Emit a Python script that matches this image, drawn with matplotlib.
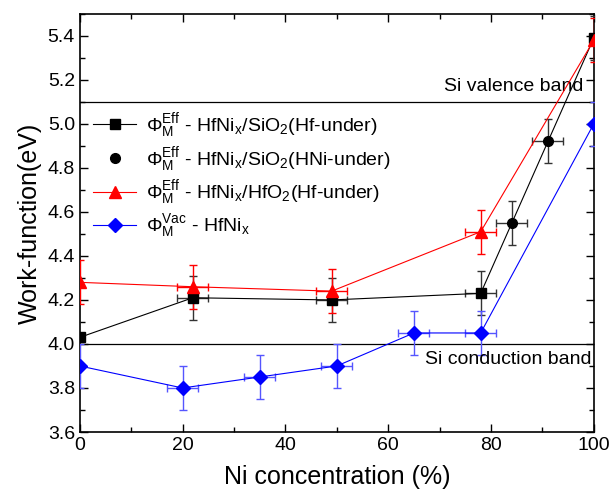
import matplotlib
matplotlib.use("Agg")
import matplotlib.pyplot as plt
from matplotlib.ticker import MultipleLocator
from matplotlib.lines import Line2D

plt.rcParams['font.family'] = ['Liberation Sans', 'DejaVu Sans']
plt.rcParams['mathtext.fontset'] = 'custom'
plt.rcParams['mathtext.rm'] = 'Liberation Sans'
plt.rcParams['mathtext.it'] = 'Liberation Sans'

# Data
x_sq = [0, 22, 49, 78, 100]
y_sq = [4.03, 4.21, 4.20, 4.23, 5.39]
yerr_sq = [0.0, 0.1, 0.1, 0.1, 0.1]
xerr_sq = [0, 3, 3, 3, 0]

x_ci = [84, 91]
y_ci = [4.55, 4.92]
yerr_ci = [0.1, 0.1]
xerr_ci = [3, 3]

x_tr = [0, 22, 49, 78, 100]
y_tr = [4.28, 4.26, 4.24, 4.51, 5.38]
yerr_tr = [0.1, 0.1, 0.1, 0.1, 0.1]
xerr_tr = [0, 3, 3, 3, 0]

x_di = [0, 20, 35, 50, 65, 78, 100]
y_di = [3.90, 3.80, 3.85, 3.90, 4.05, 4.05, 5.00]
yerr_di = [0.1, 0.1, 0.1, 0.1, 0.1, 0.1, 0.1]
xerr_di = [0, 3, 3, 3, 3, 3, 0]

labels = [r'$\Phi_M^{Eff}$ - HfNi$_x$/SiO$_2$(Hf-under)',
          r'$\Phi_M^{Eff}$ - HfNi$_x$/SiO$_2$(HNi-under)',
          r'$\Phi_M^{Eff}$ - HfNi$_x$/HfO$_2$(Hf-under)',
          r'$\Phi_M^{Vac}$ - HfNi$_x$']

si_valence = 5.1
si_conduction = 4.0

fig = plt.figure(figsize=(6.09, 4.94), dpi=100)
ax = fig.add_axes([0.131, 0.1255, 0.844, 0.8465])

ax.axhline(si_valence, color='black', lw=0.9, zorder=1)
ax.axhline(si_conduction, color='black', lw=0.9, zorder=1)

ax.errorbar(x_sq, y_sq, yerr=yerr_sq, xerr=xerr_sq, fmt='-s', color='black',
            lw=0.8, ms=7, ecolor='#333333', elinewidth=1, capsize=3, zorder=3)
ax.errorbar(x_ci, y_ci, yerr=yerr_ci, xerr=xerr_ci, fmt='o', color='black',
            ms=7, ecolor='#333333', elinewidth=1, capsize=3, zorder=3)
ax.errorbar(x_tr, y_tr, yerr=yerr_tr, xerr=xerr_tr, fmt='-^', color='red',
            lw=0.8, ms=9, ecolor='red', elinewidth=1, capsize=3, zorder=3)
ax.errorbar(x_di, y_di, yerr=yerr_di, xerr=xerr_di, fmt='-D', color='blue',
            lw=0.8, ms=7, ecolor='#5555ff', elinewidth=1, capsize=3, zorder=3)

handles = [
    Line2D([], [], color='black', lw=0.8, marker='s', ms=7),
    Line2D([], [], color='black', lw=0, marker='o', ms=7),
    Line2D([], [], color='red', lw=0.8, marker='^', ms=9),
    Line2D([], [], color='blue', lw=0.8, marker='D', ms=7),
]

ax.set_xlim(0, 100)
ax.set_ylim(3.6, 5.5)
ax.xaxis.set_major_locator(MultipleLocator(20))
ax.xaxis.set_minor_locator(MultipleLocator(10))
ax.set_yticks([3.6, 3.8, 4.0, 4.2, 4.4, 4.6, 4.8, 5.0, 5.2, 5.4])
ax.set_yticklabels(['3.6', '3.8', '4.0', '4.2', '4.4', '4.6', '4.8', '5.0', '5.2', '5.4'])
ax.yaxis.set_minor_locator(MultipleLocator(0.1))
ax.tick_params(which='both', direction='in', top=True, right=True, labelsize=14)
ax.tick_params(which='major', length=6, width=1)
ax.tick_params(which='minor', length=3.5, width=1)
for s in ax.spines.values():
    s.set_linewidth(1.2)

ax.set_xlabel('Ni concentration (%)', fontsize=18, labelpad=8)
ax.set_ylabel('Work-function(eV)', fontsize=18, labelpad=4)

ax.text(98, si_valence + 0.03, 'Si valence band', ha='right', va='bottom', fontsize=14)
ax.text(99.5, si_conduction - 0.03, 'Si conduction band', ha='right', va='top', fontsize=14)

ax.legend(handles, labels, loc='upper left', bbox_to_anchor=(0.0, 0.80), frameon=False,
          fontsize=14, handlelength=2.2, borderaxespad=0.3, labelspacing=0.25,
          handletextpad=0.5)

fig.savefig('out.png', dpi=100)
